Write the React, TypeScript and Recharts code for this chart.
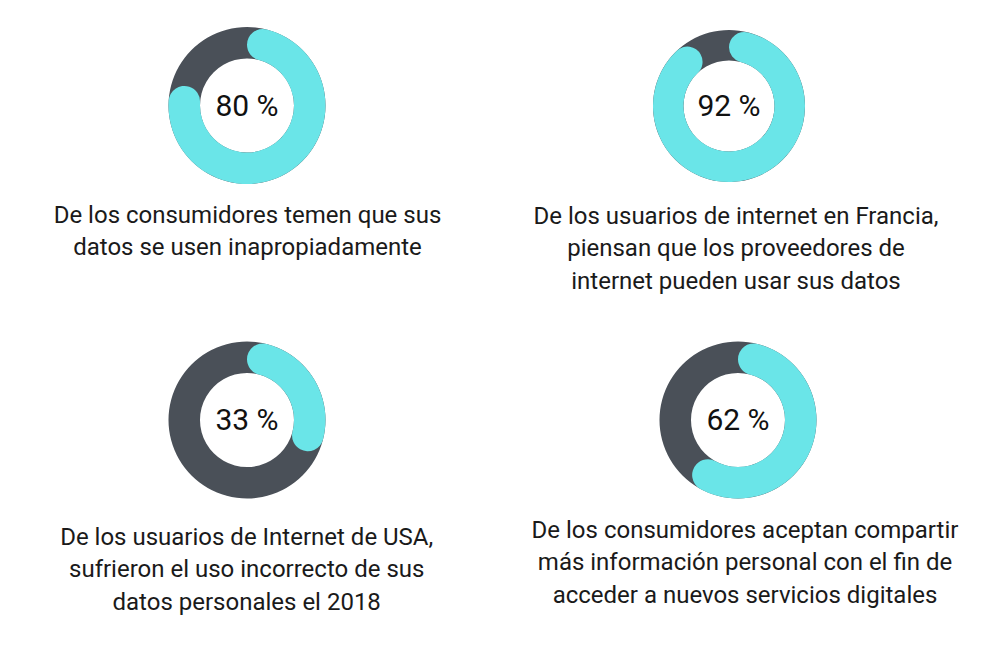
import React from 'react';
import { PieChart, Pie, Cell } from 'recharts';

// ---- Data ----
const valores: number[] = [80, 92, 33, 62];
const leyendas: string[][] = [
  ['De los consumidores temen que sus', 'datos se usen inapropiadamente'],
  ['De los usuarios de internet en Francia,', 'piensan que los proveedores de', 'internet pueden usar sus datos'],
  ['De los usuarios de Internet de USA,', 'sufrieron el uso incorrecto de sus', 'datos personales el 2018'],
  ['De los consumidores aceptan compartir', 'más información personal con el fin de', 'acceder a nuevos servicios digitales'],
];

// ---- Layout / style ----
const CYAN = '#6ae5e8';
const DARK = '#4a5058';
const TEXT = '#1a1a1a';
const FONT = 'Roboto, "Noto Sans", sans-serif';

const donuts = [
  { cx: 247, cy: 105.5, inner: 47, outer: 78.5 },
  { cx: 729, cy: 106, inner: 45.5, outer: 76 },
  { cx: 247, cy: 420, inner: 47, outer: 78.5 },
  { cx: 738, cy: 420, inner: 47, outer: 78.5 },
];
const captionPos = [
  { x: 247.5, y: 198.5 },
  { x: 736, y: 199.5 },
  { x: 246.7, y: 520.5 },
  { x: 745, y: 513.5 },
];

export default function App() {
  return (
    <div style={{ position: 'absolute', left: 0, top: 0, width: 1000, height: 667, background: '#fff', overflow: 'hidden' }}>
      <PieChart
        width={1000}
        height={667}
        margin={{ top: 0, right: 0, bottom: 0, left: 0 }}
        style={{ position: 'absolute', left: 0, top: 0 }}
      >
        {valores.map((v, i) => (
          <Pie
            key={'bg' + i}
            data={[{ name: 'total', value: 100 }]}
            dataKey="value"
            cx={donuts[i].cx}
            cy={donuts[i].cy}
            innerRadius={donuts[i].inner}
            outerRadius={donuts[i].outer}
            startAngle={90}
            endAngle={-270}
            stroke="none"
            fill={DARK}
            isAnimationActive={false}
          />
        ))}
        {valores.map((v, i) => (
          <Pie
            key={'fg' + i}
            data={[
              { name: 'porcentaje', value: v },
              { name: 'resto', value: 100 - v },
            ]}
            dataKey="value"
            cx={donuts[i].cx}
            cy={donuts[i].cy}
            innerRadius={donuts[i].inner}
            outerRadius={donuts[i].outer}
            startAngle={90}
            endAngle={-270}
            cornerRadius={20}
            stroke="none"
            isAnimationActive={false}
          >
            <Cell fill={CYAN} />
            <Cell fill="none" />
          </Pie>
        ))}
      </PieChart>
      {valores.map((v, i) => (
        <div
          key={'pct' + i}
          style={{
            position: 'absolute',
            left: donuts[i].cx - 60,
            top: donuts[i].cy - 15,
            width: 120,
            height: 30,
            lineHeight: '30px',
            textAlign: 'center',
            fontFamily: FONT,
            fontSize: 30,
            color: '#111',
            whiteSpace: 'nowrap',
          }}
        >
          {v} %
        </div>
      ))}
      {leyendas.map((lines, i) => (
        <div
          key={'cap' + i}
          style={{
            position: 'absolute',
            left: captionPos[i].x - 250,
            top: captionPos[i].y,
            width: 500,
            textAlign: 'center',
            fontFamily: FONT,
            fontSize: 24,
            lineHeight: '32.5px',
            color: TEXT,
          }}
        >
          {lines.map((l, j) => (
            <div key={j} style={{ whiteSpace: 'nowrap' }}>{l}</div>
          ))}
        </div>
      ))}
    </div>
  );
}
